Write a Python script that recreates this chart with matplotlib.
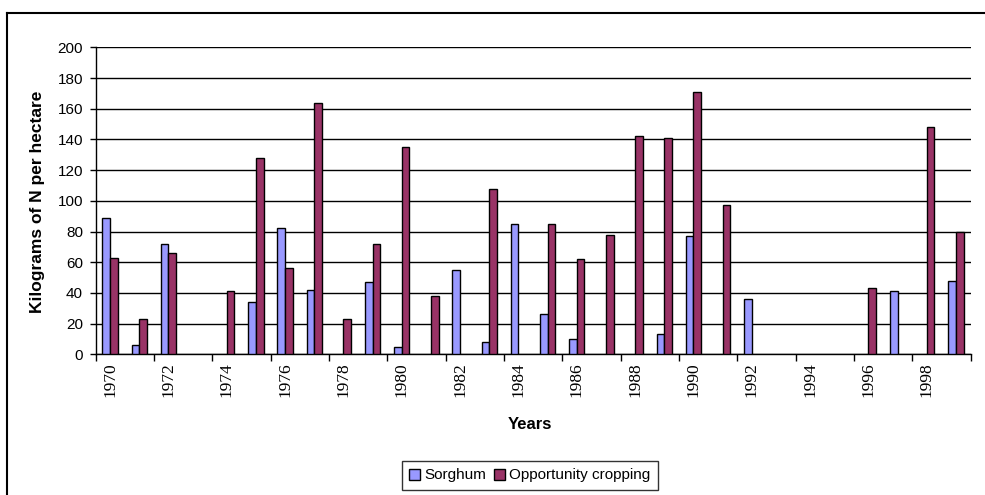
import numpy as np
import matplotlib
matplotlib.use("Agg")
from matplotlib import pyplot as plt
from matplotlib.lines import Line2D
from matplotlib.transforms import offset_copy

# Datos (0 = sin barra)
anios = list(range(1970, 2000))
sorghum = [89, 6, 72, 0, 0, 34, 82, 42, 0, 47,
           5, 0, 55, 8, 85, 26, 10, 0, 0, 13,
           77, 0, 36, 0, 0, 0, 0, 41, 0, 48]
opportunity = [63, 23, 66, 0, 41, 128, 56, 164, 23, 72,
               135, 38, 0, 108, 0, 85, 62, 78, 142, 141,
               171, 97, 0, 0, 0, 0, 43, 0, 148, 80]

color_sorghum = "#9999FF"
color_opp = "#993366"

fig = plt.figure(figsize=(9.85, 4.95), dpi=100)
ax = fig.add_axes([95.5 / 985, 1 - 354.3 / 495, 875 / 985, 307 / 495])

x = np.arange(len(anios))
w = 0.265
s = np.array(sorghum, dtype=float)
o = np.array(opportunity, dtype=float)
ms = s > 0
mo = o > 0
ax.bar(x[ms] - w / 2, s[ms], width=w, color=color_sorghum, edgecolor="black",
       linewidth=1, zorder=3, label="Sorghum")
ax.bar(x[mo] + w / 2, o[mo], width=w, color=color_opp, edgecolor="black",
       linewidth=1, zorder=3, label="Opportunity cropping")

ax.set_xlim(-0.5, len(anios) - 0.5)
ax.set_ylim(0, 200)
ax.set_yticks(range(0, 201, 20))
ax.yaxis.grid(True, color="black", linewidth=1)
ax.set_axisbelow(True)
ax.tick_params(axis="y", direction="out", length=4, width=1, pad=5,
               labelsize=11, labelfontfamily="Liberation Sans")

# marcas en los limites cada 2 años
ax.set_xticks(np.arange(-0.5, len(anios), 2))
ax.set_xticklabels([])
ax.tick_params(axis="x", direction="out", length=5, width=1)

# etiquetas de años pares centradas en su categoria
trans = offset_copy(ax.get_xaxis_transform(), fig=fig, x=0, y=-8, units="dots")
for i in range(0, len(anios), 2):
    ax.text(x[i], 0, str(anios[i]), transform=trans, rotation=90,
            ha="center", va="top", family="Liberation Serif", fontsize=12.5)

for sp in ["top", "right"]:
    ax.spines[sp].set_visible(False)
for sp in ["left", "bottom"]:
    ax.spines[sp].set_linewidth(1)

ax.set_ylabel("Kilograms of N per hectare", family="Liberation Sans",
              fontweight="bold", fontsize=12.5, va="center")
ax.yaxis.set_label_coords((38 - 95.5) / 875, 0.498)
ax.set_xlabel("Years", family="Liberation Sans", fontweight="bold",
              fontsize=12, va="top")
ax.xaxis.set_label_coords(0.4966, (354.3 - 417) / 307)

leg = fig.legend(loc="center", bbox_to_anchor=(530 / 985, 1 - 475.5 / 495),
                 ncol=2, frameon=True, fancybox=False, edgecolor="black",
                 prop={"family": "Liberation Sans", "size": 11},
                 handlelength=0.7, handleheight=0.7, handletextpad=0.3,
                 columnspacing=0.5, borderpad=0.5, borderaxespad=0)
leg.get_frame().set_linewidth(1)

# borde exterior del area del grafico
fig.add_artist(Line2D([7 / 985, 7 / 985], [0, 1 - 13 / 495], color="black",
                      linewidth=1.5, transform=fig.transFigure))
fig.add_artist(Line2D([7 / 985, 1], [1 - 13 / 495, 1 - 13 / 495],
                      color="black", linewidth=1.5, transform=fig.transFigure))

fig.savefig("out.png", dpi=100)
